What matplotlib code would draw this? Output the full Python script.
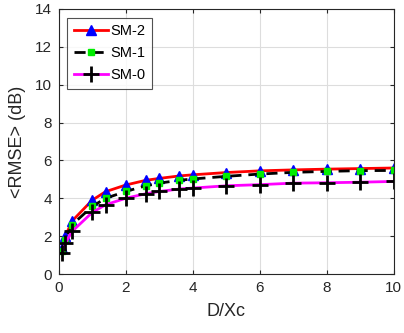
import matplotlib
matplotlib.use("Agg")
import matplotlib.pyplot as plt

# data
d_xc = [0.1, 0.2, 0.4, 1, 1.4, 2, 2.6, 3, 3.6, 4, 5, 6, 7, 8, 9, 10]
sm2 = [1.35, 2.0, 2.8, 3.9, 4.35, 4.7, 4.95, 5.05, 5.18, 5.24, 5.36, 5.45, 5.5, 5.54, 5.57, 5.6]
sm1 = [1.2, 1.8, 2.6, 3.57, 4.0, 4.36, 4.66, 4.8, 4.95, 5.02, 5.16, 5.28, 5.37, 5.42, 5.46, 5.47]
sm0 = [1.1, 1.64, 2.25, 3.25, 3.66, 4.0, 4.24, 4.36, 4.49, 4.54, 4.66, 4.72, 4.8, 4.82, 4.85, 4.89]

plt.rcParams['font.family'] = ['Liberation Sans', 'DejaVu Sans']

fig = plt.figure(figsize=(4.04, 3.33), dpi=100)
ax = fig.add_axes([58.7/404, 1 - 274/333, (393.7-58.7)/404, (274-9)/333])

ax.plot(d_xc, sm2, color='red', lw=2, marker='^', ms=7, mfc='blue', mec='blue', label='SM-2')
ax.plot(d_xc, sm1, color='black', lw=2, ls=(0, (4, 2.5)), marker='s', ms=4, mfc='#00ee00', mec='#00ee00', label='SM-1')
ax.plot(d_xc, sm0, color='magenta', lw=2, marker='+', ms=11, mew=2, mec='black', label='SM-0')

ax.set_xlim(0, 10)
ax.set_ylim(0, 14)
ax.set_xticks(range(0, 11, 2))
ax.set_yticks(range(0, 15, 2))
ax.grid(True, color='#dddddd', lw=0.8)
ax.set_axisbelow(True)
ax.tick_params(direction='in', top=True, right=True, labelsize=11, colors='#262626', length=3, pad=5)
for s in ax.spines.values():
    s.set_color('#262626')
    s.set_linewidth(0.8)

ax.set_xlabel('D/Xc', fontsize=13, color='#262626', labelpad=6)
ax.set_ylabel('<RMSE> (dB)', fontsize=13, color='#262626', labelpad=6)

leg = ax.legend(loc='upper left', fontsize=10.5, frameon=True, fancybox=False,
                edgecolor='#262626', handlelength=2.3, borderpad=0.45,
                labelspacing=0.55, handletextpad=0.2, borderaxespad=0.6)
leg.get_frame().set_linewidth(0.8)

fig.savefig('out.png', dpi=100)
